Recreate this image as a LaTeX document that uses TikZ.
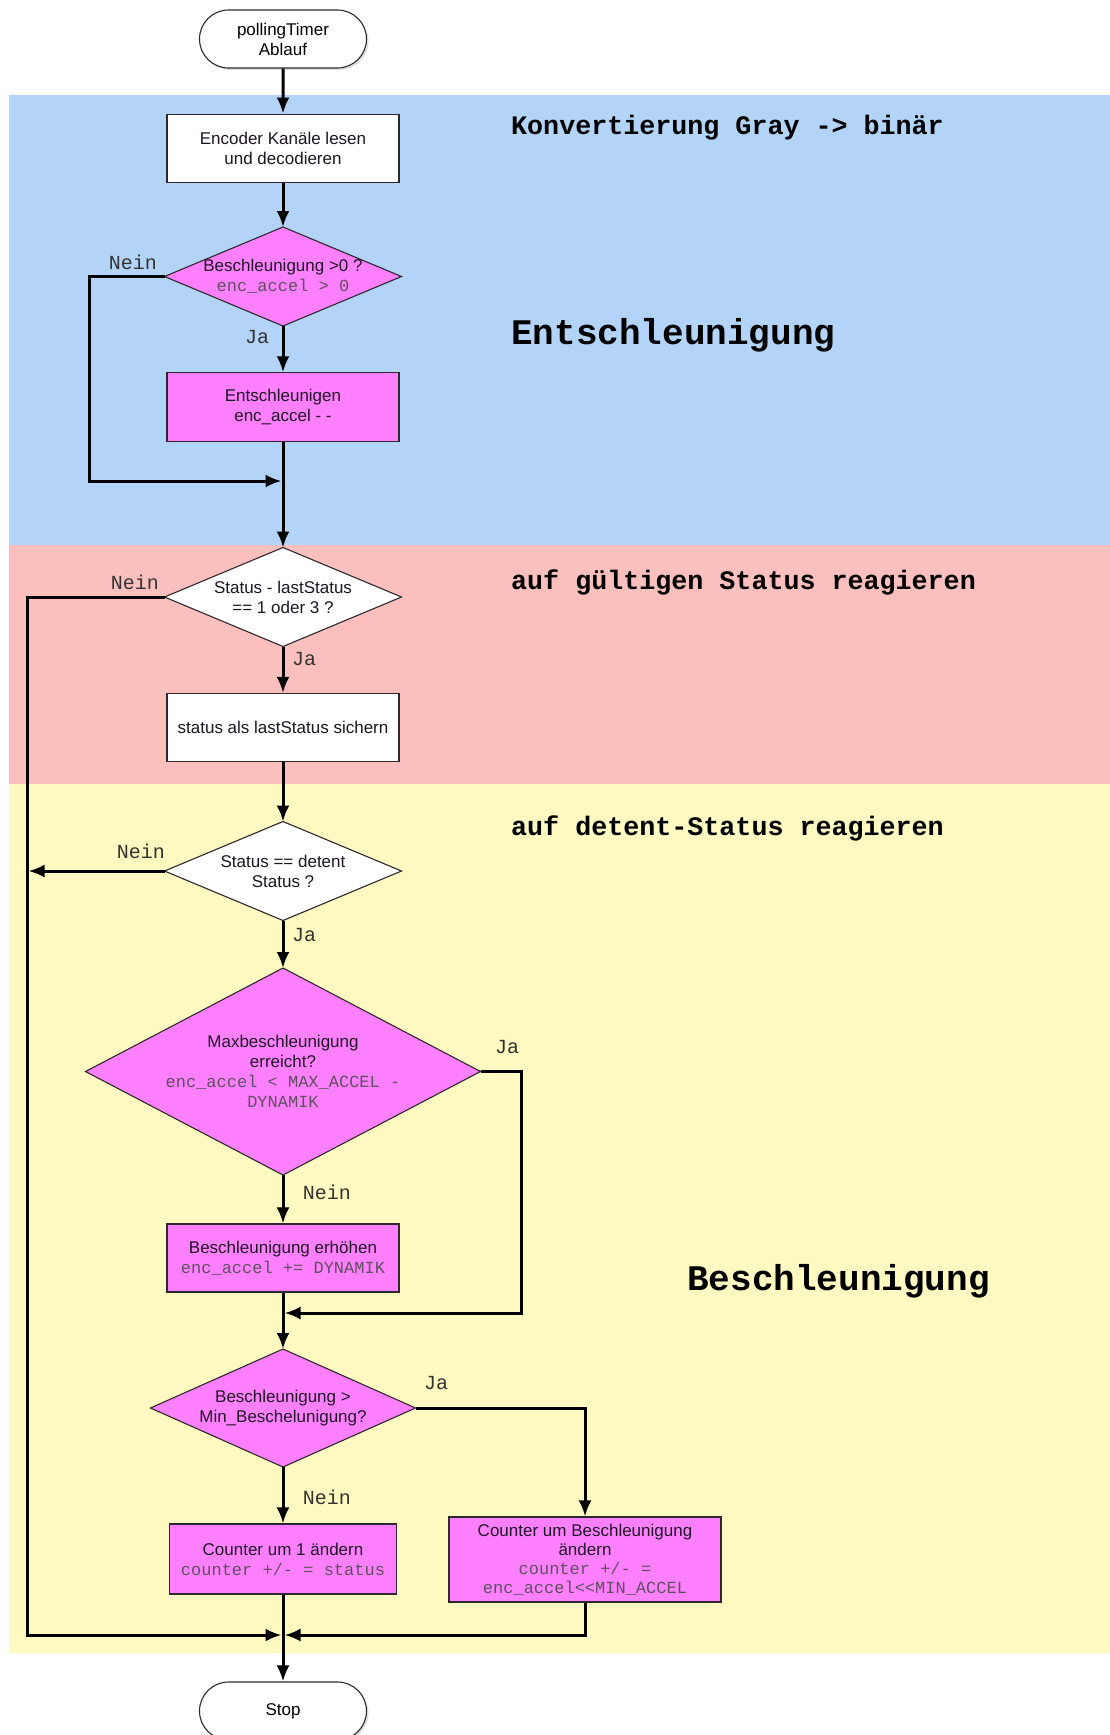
\documentclass[tikz,border=0pt]{standalone}
\usepackage{fontspec}
\setmainfont{Liberation Sans}
\newfontfamily\codefont{Liberation Mono}
\usetikzlibrary{shapes.geometric,shapes.misc,arrows.meta,shadows}

\definecolor{bandblue}{RGB}{179,212,247}
\definecolor{bandpink}{RGB}{251,191,189}
\definecolor{bandyellow}{RGB}{254,249,192}
\definecolor{magfill}{RGB}{255,128,255}
\definecolor{nodeborder}{RGB}{45,40,45}
\definecolor{codegray}{RGB}{95,80,95}
\definecolor{textdark}{RGB}{30,20,35}

\newcommand{\codeline}[1]{{\codefont\color{codegray}#1}}

\tikzset{
  boxnode/.style={rectangle, draw=nodeborder, line width=1.1pt, inner sep=0pt,
    align=center, font=\fontsize{17}{20}\selectfont, text=textdark},
  proc/.style={boxnode, fill=white},
  magproc/.style={boxnode, fill=magfill},
  decision/.style={diamond, draw=nodeborder, line width=1.1pt, inner sep=0pt, outer sep=0pt},
  dtext/.style={align=center, inner sep=0pt, font=\fontsize{17}{20}\selectfont, text=textdark},
  termnode/.style={rounded rectangle, draw=nodeborder, line width=1.1pt, fill=white,
    minimum width=167, inner sep=0pt, align=center, font=\fontsize{17}{20}\selectfont,
    drop shadow={opacity=0.25, shadow xshift=2pt, shadow yshift=-2pt}},
  flow/.style={line width=3pt, draw=black, -{Latex[length=16pt,width=13pt]}},
  brlabel/.style={font=\codefont\fontsize{20}{22}\selectfont, text=black!80, inner sep=0pt},
  sectitle/.style={font=\codefont\bfseries\fontsize{26.7}{30}\selectfont, anchor=west, inner sep=0pt},
  bigtitle/.style={font=\codefont\bfseries\fontsize{36}{40}\selectfont, anchor=west, inner sep=0pt},
}

\begin{document}
\begin{tikzpicture}[x=1pt, y=-1pt]
\useasboundingbox (0,0) rectangle (1110,1735);
\fill[white] (0,0) rectangle (1110,1735);

% bands
\fill[bandblue] (9,95) rectangle (1110,544.5);
\fill[bandpink] (9,544.5) rectangle (1110,783.5);
\fill[bandyellow] (9,783.5) rectangle (1110,1653);

% section titles
\node[sectitle] (t1) at (511,128) {Konvertierung Gray -> binär};
\node[bigtitle] (t2) at (511,335) {Entschleunigung};
\node[sectitle] (t3) at (511,582.5) {auf gültigen Status reagieren};
\node[sectitle] (t4) at (511,828) {auf detent-Status reagieren};
\node[bigtitle] (t5) at (687,1281.5) {Beschleunigung};

% nodes
\node[termnode, minimum height=58] (start) at (283,39) {pollingTimer\\Ablauf};
\node[proc, minimum width=232, minimum height=68.5] (enc) at (283,148.3) {Encoder Kanäle lesen\\und decodieren};

\node[decision, fill=magfill, minimum width=237, minimum height=99] (d1) at (283,276.5) {};
\node[dtext] (d1t) at (d1) {Beschleunigung >0 ?\\\codeline{enc\_accel > 0}};

\node[magproc, minimum width=232, minimum height=69] (ent) at (283,407.3) {Entschleunigen\\enc\_accel - -};

\node[decision, fill=white, minimum width=237, minimum height=99] (d2) at (283,597) {};
\node[dtext] (d2t) at (d2) {Status - lastStatus\\== 1 oder 3 ?};

\node[proc, minimum width=232, minimum height=68] (st) at (283,727.5) {status als lastStatus sichern};

\node[decision, fill=white, minimum width=237, minimum height=99] (d3) at (283,871) {};
\node[dtext] (d3t) at (d3) {Status == detent\\Status ?};

\node[decision, fill=magfill, minimum width=395, minimum height=207] (d4) at (283,1071.5) {};
\node[dtext] (d4t) at (d4) {Maxbeschleunigung\\erreicht?\\\codeline{enc\_accel < MAX\_ACCEL -}\\\codeline{DYNAMIK}};

\node[magproc, minimum width=232, minimum height=68] (b4) at (283,1258) {Beschleunigung erhöhen\\\codeline{enc\_accel += DYNAMIK}};

\node[decision, fill=magfill, minimum width=265, minimum height=118] (d5) at (283,1408) {};
\node[dtext] (d5t) at (d5) {Beschleunigung >\\Min\_Beschelunigung?};

\node[magproc, minimum width=227, minimum height=70] (c1) at (283,1559) {Counter um 1 ändern\\\codeline{counter +/- = status}};
\node[magproc, minimum width=272, minimum height=85, font=\fontsize{17}{19}\selectfont] (c2) at (585,1559.5) {Counter um Beschleunigung\\ändern\\\codeline{counter +/- =}\\\codeline{enc\_accel<{}<MIN\_ACCEL}};

\node[termnode, minimum height=58] (stop) at (283,1711) {Stop};

% junction coordinates
\coordinate (j1) at (283,481);
\coordinate (n1) at (89,481);
\coordinate (j2) at (283,1313);
\coordinate (n2) at (521,1313);
\coordinate (j3) at (283,1635);
\coordinate (n3) at (27,1635);
\coordinate (n4) at (27,871);

% connectors
\draw[flow] (start) -- (enc);
\draw[flow] (enc) -- (d1.north);
\draw[flow] (d1.south) -- (ent);
\draw[flow, shorten >=1.5pt] (d1.west) -| (n1) -- (j1);
\draw[flow] (ent) -- (d2.north);
\draw[flow] (d2.south) -- (st);
\draw[flow, shorten >=1.5pt] (d2.west) -| (n3) -- (j3);
\draw[flow] (st) -- (d3.north);
\draw[flow, shorten >=1.5pt] (d3.west) -- (n4);
\draw[flow] (d3.south) -- (d4.north);
\draw[flow] (d4.south) -- (b4);
\draw[flow, shorten >=1.5pt] (d4.east) -| (n2) -- (j2);
\draw[flow] (b4) -- (d5.north);
\draw[flow] (d5.south) -- (c1);
\draw[flow] (d5.east) -| (c2.north);
\draw[flow] (c1) -- (stop);
\draw[flow, shorten >=1.5pt] (c2.south) |- (j3);

% branch labels
\node[brlabel] (l1) at (133,262.5) {Nein};
\node[brlabel] (l2) at (257,337) {Ja};
\node[brlabel] (l3) at (135,582.5) {Nein};
\node[brlabel] (l4) at (304,659) {Ja};
\node[brlabel] (l5) at (141,851.5) {Nein};
\node[brlabel] (l6) at (304,935) {Ja};
\node[brlabel] (l7) at (507,1047) {Ja};
\node[brlabel] (l8) at (327,1192) {Nein};
\node[brlabel] (l9) at (436,1383) {Ja};
\node[brlabel] (l10) at (327,1497) {Nein};
\end{tikzpicture}
\end{document}
